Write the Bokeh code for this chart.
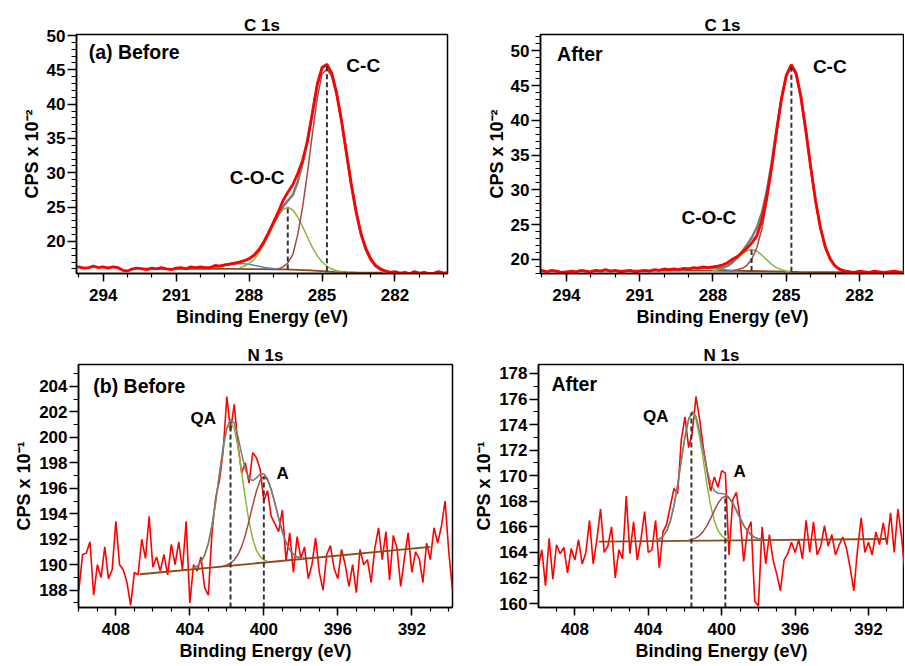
from bokeh.plotting import figure
from bokeh.layouts import column, row
from bokeh.models import Range1d, FixedTicker, Label, LinearAxis
from bokeh.embed import file_html
from bokeh.resources import INLINE

FONT = "Liberation Sans"
RED = "#FF0000"
GRAY = "#7A7A7A"
DKRED = "#A8474A"
GREEN = "#8DB43E"
BLUE = "#4A86C8"
BROWN = "#8B4A1C"
DASH = "#333333"


def be_grid(start, n, step=0.2):
    return [round(start - step * i, 2) for i in range(n)]


# ---------------- tick data ----------------
c_x_major = [294, 291, 288, 285, 282]
c_x_minor = list(range(280, 296))
c_y_major = [20, 25, 30, 35, 40, 45, 50]
c1_y_minor = list(range(16, 51))
c2_y_minor = list(range(18, 53))
n_x_major = [408, 404, 400, 396, 392]
n_x_minor = list(range(390, 411))
n1_y_major = [188, 190, 192, 194, 196, 198, 200, 202, 204]
n1_y_minor = list(range(187, 206))
n2_y_major = [160, 162, 164, 166, 168, 170, 172, 174, 176, 178]
n2_y_minor = list(range(160, 179))

# ---------------- C 1s before ----------------
c1b_data = [16.2, 16.3, 16.1, 16.2, 16.4, 16.2, 16.3, 16.1, 16.3, 16.2,
            15.8, 15.7, 16.0, 16.1, 16.0, 15.9, 16.1, 16.0, 16.2, 16.0,
            15.9, 16.1, 16.2, 16.0, 16.3, 16.2, 16.3, 16.2, 16.2, 16.5,
            16.4, 16.6, 16.7, 16.8, 17.0, 17.2, 17.5, 18.0, 18.8, 19.9,
            21.3, 22.8, 24.3, 26.0, 27.2, 28.3, 29.9, 31.8, 34.6, 38.6,
            42.8, 45.3, 45.8, 44.5, 41.6, 37.6, 33.0, 28.4, 24.4, 21.2,
            19.0, 17.5, 16.5, 16.0, 15.7, 15.5, 15.6, 15.4, 15.5, 15.3,
            15.6, 15.4, 15.5, 15.3, 15.4, 15.6, 15.4, 15.5]
c1b_blue = [16.18, 16.29, 16.42, 16.55, 16.68, 16.76, 16.79, 16.75, 16.66, 16.52,
            16.39, 16.25, 16.14, 16.06, 16.00]
c1b_green = [16.19, 16.39, 16.77, 17.37, 18.28, 19.48, 20.92, 22.43, 23.76, 24.68,
             24.98, 24.58, 23.56, 22.16, 20.61, 19.15, 17.93, 17.01, 16.38, 15.98,
             15.74, 15.62]
c1b_dkred = [15.95, 16.0, 16.3, 16.9, 18.1, 21.0, 25.0, 30.0, 35.6, 40.8,
             44.4, 45.1, 44.0, 41.3, 37.5, 32.8, 28.2, 24.2, 21.0, 18.8,
             17.3, 16.4, 15.9, 15.65, 15.52, 15.47]
c1b_env = [16.18, 16.29, 16.42, 16.56, 16.72, 16.85, 16.99, 17.16, 17.45, 17.92,
           18.70, 19.77, 21.10, 22.54, 23.88, 25.08, 25.96, 26.78, 28.70, 31.33,
           34.81, 38.8, 42.8, 45.4, 45.8, 44.38, 41.48, 37.58, 32.83, 28.2,
           24.2, 21.0, 18.8, 17.3, 16.4, 15.9, 15.65, 15.52, 15.47]
c1b_bg = [16.02, 16.02, 16.01, 16.01, 16.0, 16.0, 16.0, 16.0, 15.99, 15.98,
          15.97, 15.95, 15.92, 15.86, 15.78, 15.68, 15.58, 15.52, 15.47, 15.45, 15.45]
c1b_peak_be = [284.8, 286.41]
c1b_peak_top = [45.7, 24.98]
c1b_peak_base = [15.64, 15.92]

# ---------------- C 1s after ----------------
c1a_data = [18.3, 18.4, 18.2, 18.4, 18.3, 18.1, 18.2, 18.3, 18.2, 18.4,
            18.3, 18.2, 18.4, 18.3, 18.5, 18.3, 18.4, 18.2, 18.3, 18.4,
            18.2, 18.3, 18.4, 18.3, 18.5, 18.4, 18.6, 18.5, 18.6, 18.5,
            18.7, 18.6, 18.8, 18.7, 18.9, 18.8, 18.9, 19.0, 19.2, 19.5,
            20.0, 20.4, 21.0, 21.6, 22.4, 23.4, 25.6, 29.0, 33.2, 38.3,
            43.0, 46.4, 48.0, 46.8, 43.4, 38.6, 33.3, 28.4, 24.5, 21.7,
            20.0, 19.0, 18.5, 18.3, 18.2, 18.1, 18.3, 18.2, 18.1, 18.3,
            18.2, 18.1, 18.2, 18.3, 18.2, 18.1, 18.2, 18.2]
c1a_blue = [18.41, 18.46, 18.53, 18.62, 18.71, 18.78, 18.80, 18.78, 18.71, 18.62,
            18.52, 18.45, 18.39, 18.35]
c1a_green = [18.40, 18.47, 18.65, 18.97, 19.46, 20.11, 20.76, 21.25, 21.41, 21.16,
             20.60, 19.91, 19.28, 18.80, 18.49, 18.32, 18.24]
c1a_dkred = [18.39, 18.48, 18.70, 19.17, 20.10, 21.73, 24.35, 28.10, 32.82, 38.04,
             42.92, 46.42, 47.80, 46.67, 43.28, 38.48, 33.23, 28.39, 24.54, 21.82,
             20.07, 19.08, 18.56, 18.32, 18.21]
c1a_env = [18.41, 18.46, 18.53, 18.62, 18.71, 18.78, 18.80, 18.79, 18.76, 18.75,
           18.83, 19.08, 19.58, 20.28, 21.15, 22.11, 23.20, 24.59, 26.67, 29.74,
           33.84, 38.60, 43.18, 46.53, 47.84, 46.67, 43.28, 38.48, 33.23, 28.39,
           24.54, 21.82, 20.07, 19.08, 18.56, 18.32, 18.21]
c1a_bg_be = [293.0, 292.0, 291.0, 290.0, 289.0, 288.0, 287.5, 287.0, 286.5, 286.0,
             285.5, 285.0, 284.5, 284.0, 283.0, 282.0, 281.0, 280.0]
c1a_bg = [18.36, 18.36, 18.35, 18.35, 18.35, 18.35, 18.34, 18.33, 18.31, 18.28,
          18.25, 18.21, 18.18, 18.16, 18.15, 18.15, 18.15, 18.15]
c1a_peak_be = [284.79, 286.42]
c1a_peak_top = [47.9, 21.41]
c1a_peak_base = [18.2, 18.31]

# ---------------- N 1s before ----------------
n1b_data = [188.0, 190.8, 190.9, 191.8, 187.6, 190.0, 189.0, 191.4, 188.9, 189.6,
            193.4, 190.0, 189.6, 188.6, 186.8, 189.4, 189.2, 192.0, 190.5, 193.8,
            189.8, 190.6, 189.5, 190.8, 189.2, 191.6, 190.0, 191.8, 189.6, 193.4,
            187.0, 190.0, 189.5, 190.6, 188.2, 187.6, 192.6, 195.3, 196.6, 198.9,
            203.2, 200.5, 202.6, 199.4, 197.2, 198.0, 196.4, 198.8, 198.4, 197.5,
            195.0, 195.8, 193.8, 193.2, 192.6, 194.3, 190.3, 192.5, 189.4, 192.2,
            190.5, 191.4, 188.9, 190.0, 192.1, 189.4, 188.0, 190.8, 191.5, 189.7,
            188.9, 191.2, 190.0, 188.3, 190.0, 187.8, 191.2, 190.0, 190.4, 188.6,
            191.3, 192.9, 190.4, 192.6, 188.8, 192.3, 191.3, 188.3, 190.5, 192.5,
            189.4, 191.0, 190.5, 188.6, 191.7, 190.4, 192.9, 191.7, 193.0, 195.0,
            191.0, 188.0]
n1b_bg_be = [406.7, 391.0]
n1b_bg = [189.25, 191.4]
n1b_green = [189.73, 189.88, 190.19, 190.75, 191.69, 193.10, 194.98, 197.11, 199.16, 200.64,
             201.21, 200.70, 199.27, 197.27, 195.20, 193.38, 192.02, 191.13, 190.63, 190.38,
             190.28]
n1b_dkred = [189.90, 189.98, 190.12, 190.37, 190.78, 191.42, 192.32, 193.44, 194.66, 195.79,
             196.61, 196.92, 196.66, 195.90, 194.83, 193.66, 192.59, 191.75, 191.17, 190.81,
             190.61, 190.53, 190.51]
n1b_env = [189.73, 189.89, 190.20, 190.76, 191.69, 193.11, 194.99, 197.12, 199.20, 200.74,
           201.42, 201.13, 200.08, 198.70, 197.50, 196.77, 196.60, 196.82, 197.11, 197.14,
           196.75, 195.90, 194.83, 193.66, 192.59, 191.75, 191.17, 190.81, 190.61, 190.53,
           190.51]
n1b_peak_be = [401.8, 400.0]
n1b_peak_top = [201.21, 196.92]

# ---------------- N 1s after ----------------
n1a_data = [162.8, 164.2, 161.4, 165.1, 161.9, 164.6, 163.9, 164.4, 162.4, 164.3,
            163.4, 165.0, 163.1, 164.0, 166.5, 163.1, 165.0, 167.4, 164.0, 164.5,
            166.0, 162.0, 164.2, 163.5, 168.4, 163.9, 166.4, 163.4, 165.0, 167.2,
            164.0, 164.2, 166.5, 162.8, 165.6, 166.2, 167.6, 169.0, 168.6, 172.8,
            174.6, 172.2, 173.4, 176.2, 174.4, 172.2, 170.4, 168.8, 169.9, 169.1,
            170.4, 170.2, 163.8, 168.1, 168.7, 166.7, 163.3, 165.7, 166.4, 160.2,
            159.8, 166.0, 163.1, 165.4, 163.4, 162.3, 161.0, 163.4, 163.9, 164.8,
            164.0, 165.0, 163.5, 166.5, 164.0, 166.4, 163.8, 164.5, 166.1, 164.5,
            165.4, 163.8, 164.6, 165.2, 164.3, 162.8, 161.0, 164.2, 166.7, 164.0,
            164.8, 163.8, 165.6, 164.6, 166.3, 164.6, 167.1, 164.0, 167.4, 165.2,
            162.3, 161.5]
n1a_bg_be = [406.7, 391.0]
n1a_bg = [164.85, 165.05]
n1a_green = [164.95, 165.04, 165.26, 165.68, 166.44, 167.63, 169.26, 171.17, 173.03, 174.40,
             174.92, 174.41, 173.04, 171.19, 169.28, 167.65, 166.47, 165.72, 165.30, 165.09,
             165.00]
n1a_dkred = [164.96, 165.02, 165.14, 165.33, 165.66, 166.10, 166.66, 167.27, 167.84, 168.25,
             168.39, 168.25, 167.85, 167.29, 166.68, 166.12, 165.69, 165.37, 165.18, 165.06,
             165.02]
n1a_env = [164.95, 165.04, 165.26, 165.68, 166.44, 167.63, 169.26, 171.17, 173.03, 174.45,
           175.02, 174.63, 173.45, 171.92, 170.45, 169.38, 168.81, 168.62, 168.61, 168.54,
           168.31, 167.85, 167.29, 166.68, 166.12, 165.69, 165.37, 165.18, 165.06, 165.02]
n1a_peak_be = [401.65, 399.8]
n1a_peak_top = [174.92, 168.39]


# ---------------- helpers ----------------
def style_axis(ax, label_size):
    ax.axis_line_width = 1.5
    ax.axis_line_color = "black"
    ax.major_tick_line_width = 1.5
    ax.minor_tick_line_width = 1.2
    ax.major_tick_line_color = "black"
    ax.minor_tick_line_color = "black"
    ax.major_tick_in = 0
    ax.minor_tick_in = 0
    ax.major_label_text_font = FONT
    ax.major_label_text_font_size = "17px"
    ax.major_label_text_font_style = "bold"
    ax.major_label_text_color = "black"
    ax.axis_label_text_font = FONT
    ax.axis_label_text_font_size = label_size
    ax.axis_label_text_font_style = "bold"
    ax.axis_label_text_color = "black"


def panel(title, w, h, xr, yr, borders, xt, yt, ylabel, ylab_standoff):
    p = figure(width=w, height=h, x_range=Range1d(*xr), y_range=Range1d(*yr),
               output_backend="svg", toolbar_location=None,
               min_border_left=borders[0], min_border_right=borders[1],
               min_border_top=borders[2], min_border_bottom=borders[3])
    p.xgrid.visible = False
    p.ygrid.visible = False
    p.outline_line_color = "black"
    p.outline_line_width = 1.5
    p.outline_line_alpha = 1.0
    p.xaxis.ticker = FixedTicker(ticks=xt[0], minor_ticks=xt[1])
    p.yaxis.ticker = FixedTicker(ticks=yt[0], minor_ticks=yt[1])
    p.xaxis.axis_label = "Binding Energy (eV)"
    p.yaxis.axis_label = ylabel
    style_axis(p.xaxis[0], "18px")
    style_axis(p.yaxis[0], "18px")
    p.xaxis.major_tick_out = 8
    p.xaxis.minor_tick_out = 4
    p.xaxis.major_label_standoff = 7
    p.xaxis.axis_label_standoff = 3
    p.yaxis.major_tick_out = 9
    p.yaxis.minor_tick_out = 5
    p.yaxis.major_label_standoff = 2
    p.yaxis.axis_label_standoff = ylab_standoff
    # panel title drawn as the label of a bare axis above the frame
    top = LinearAxis()
    top.ticker = FixedTicker(ticks=[])
    top.axis_label = title
    style_axis(top, "17px")
    top.axis_label_standoff = 0
    top.major_label_standoff = 0
    top.major_tick_out = 0
    top.minor_tick_out = 0
    top.axis_line_color = None
    top.major_tick_line_color = None
    top.minor_tick_line_color = None
    p.add_layout(top, "above")
    return p


def label(p, x, y, text, size):
    p.add_layout(Label(x=x, y=y, text=text, text_font=FONT, text_font_size=size,
                       text_font_style="bold", text_color="black",
                       text_align="left", text_baseline="middle"))


# ---------------- C 1s before ----------------
p1 = panel("C 1s", 470, 335, (295.1, 279.84), (15.33, 50.15), (76, 23, 32, 62),
           (c_x_major, c_x_minor), (c_y_major, c1_y_minor), "CPS x 10\u207b\u00b2", 2)
p1.line([292.5 - 0.5 * i for i in range(len(c1b_bg))], c1b_bg, line_color=BROWN, line_width=1.8)
p1.line(be_grid(289.6, len(c1b_blue)), c1b_blue, line_color=BLUE, line_width=1.5)
p1.line(be_grid(288.4, len(c1b_green)), c1b_green, line_color=GREEN, line_width=1.5)
p1.line(be_grid(287.0, len(c1b_dkred)), c1b_dkred, line_color=DKRED, line_width=1.5)
p1.line(be_grid(289.6, len(c1b_env)), c1b_env, line_color=GRAY, line_width=2.5)
p1.line(be_grid(295.2, len(c1b_data)), c1b_data, line_color=RED, line_width=2.8)
p1.segment(x0=c1b_peak_be, y0=c1b_peak_base, x1=c1b_peak_be, y1=c1b_peak_top,
           line_color=DASH, line_width=2, line_dash="5 3")
label(p1, 294.6, 47.55, "(a) Before", "19.5px")
label(p1, 284.0, 45.6, "C-C", "19px")
label(p1, 288.8, 29.3, "C-O-C", "19px")

# ---------------- C 1s after ----------------
p2 = panel("C 1s", 434, 335, (295.06, 280.16), (17.95, 52.35), (70, 0, 34, 60),
           (c_x_major, c_x_minor), (c_y_major, c2_y_minor), "CPS x 10\u207b\u00b2", 1)
p2.line(c1a_bg_be, c1a_bg, line_color=BROWN, line_width=1.8)
p2.line(be_grid(289.6, len(c1a_blue)), c1a_blue, line_color=BLUE, line_width=1.5)
p2.line(be_grid(288.0, len(c1a_green)), c1a_green, line_color=GREEN, line_width=1.5)
p2.line(be_grid(287.2, len(c1a_dkred)), c1a_dkred, line_color=DKRED, line_width=1.5)
p2.line(be_grid(289.6, len(c1a_env)), c1a_env, line_color=GRAY, line_width=2.5)
p2.line(be_grid(295.2, len(c1a_data)), c1a_data, line_color=RED, line_width=2.8)
p2.segment(x0=c1a_peak_be, y0=c1a_peak_base, x1=c1a_peak_be, y1=c1a_peak_top,
           line_color=DASH, line_width=2, line_dash="5 3")
label(p2, 294.38, 49.6, "After", "19.5px")
label(p2, 283.91, 47.7, "C-C", "19px")
label(p2, 289.29, 25.95, "C-O-C", "19px")

# ---------------- N 1s before ----------------
p3 = panel("N 1s", 470, 330, (410.02, 389.8), (186.64, 205.72), (78, 18, 27, 58),
           (n_x_major, n_x_minor), (n1_y_major, n1_y_minor), "CPS x 10\u207b\u00b9", 2)
p3.line(be_grid(410.0, len(n1b_data)), n1b_data, line_color=RED, line_width=1.6)
p3.line(n1b_bg_be, n1b_bg, line_color=BROWN, line_width=1.8)
p3.line(be_grid(403.8, len(n1b_green)), n1b_green, line_color=GREEN, line_width=1.5)
p3.line(be_grid(402.2, len(n1b_dkred)), n1b_dkred, line_color=DKRED, line_width=1.5)
p3.line(be_grid(403.8, len(n1b_env)), n1b_env, line_color=GRAY, line_width=1.5)
p3.segment(x0=n1b_peak_be, y0=[186.64] * 2, x1=n1b_peak_be, y1=n1b_peak_top,
           line_color=DASH, line_width=2, line_dash="5 3")
label(p3, 409.22, 204.05, "(b) Before", "19.5px")
label(p3, 403.96, 201.45, "QA", "17px")
label(p3, 399.31, 197.2, "A", "17px")

# ---------------- N 1s after ----------------
p4 = panel("N 1s", 434, 330, (409.98, 390.04), (159.69, 178.7), (68, 0, 29, 58),
           (n_x_major, n_x_minor), (n2_y_major, n2_y_minor), "CPS x 10\u207b\u00b9", 2)
p4.line(be_grid(410.0, len(n1a_data)), n1a_data, line_color=RED, line_width=1.6)
p4.line(n1a_bg_be, n1a_bg, line_color=BROWN, line_width=1.8)
p4.line(be_grid(403.6, len(n1a_green)), n1a_green, line_color=GREEN, line_width=1.5)
p4.line(be_grid(401.8, len(n1a_dkred)), n1a_dkred, line_color=DKRED, line_width=1.5)
p4.line(be_grid(403.6, len(n1a_env)), n1a_env, line_color=GRAY, line_width=1.5)
p4.segment(x0=n1a_peak_be, y0=[159.69] * 2, x1=n1a_peak_be, y1=n1a_peak_top,
           line_color=DASH, line_width=2, line_dash="5 3")
label(p4, 409.27, 177.2, "After", "19.5px")
label(p4, 404.28, 174.6, "QA", "17px")
label(p4, 399.36, 170.3, "A", "17px")

layout = column(row(p1, p2), row(p3, p4))
open("out.html", "w").write(file_html(layout, INLINE))
